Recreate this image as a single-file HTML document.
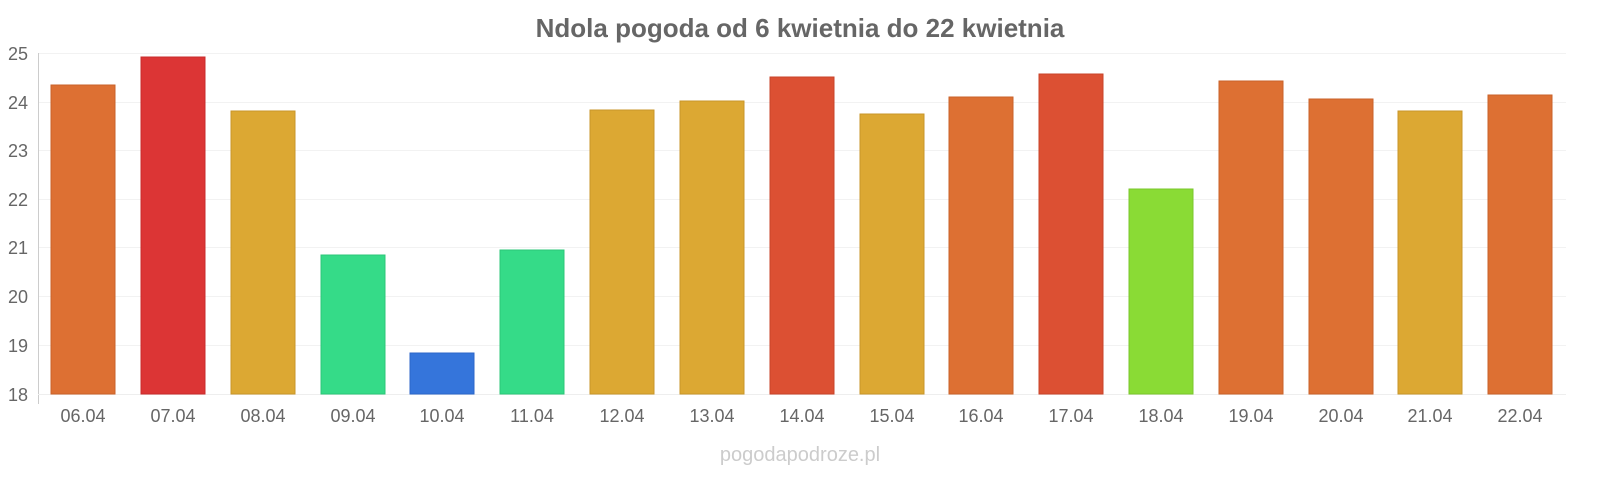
<!DOCTYPE html>
<html><head><meta charset="utf-8"><style>html,body{margin:0;padding:0;background:#fff;width:1600px;height:480px;overflow:hidden}svg{display:block}</style></head><body>
<svg width="1600" height="480" viewBox="0 0 1600 480" xmlns="http://www.w3.org/2000/svg" font-family="Liberation Sans, sans-serif">
<text x="800" y="37" text-anchor="middle" font-size="26" font-weight="bold" fill="#666">Ndola pogoda od 6 kwietnia do 22 kwietnia</text>
<g stroke="#f2f2f2" stroke-width="1">
<line x1="38" x2="1566" y1="53.5" y2="53.5"/><line x1="38" x2="1566" y1="102.5" y2="102.5"/><line x1="38" x2="1566" y1="150.5" y2="150.5"/><line x1="38" x2="1566" y1="199.5" y2="199.5"/><line x1="38" x2="1566" y1="247.5" y2="247.5"/><line x1="38" x2="1566" y1="296.5" y2="296.5"/><line x1="38" x2="1566" y1="345.5" y2="345.5"/>
</g>
<line x1="38.5" x2="38.5" y1="53" y2="404" stroke="#ccc"/>
<line x1="38" x2="1566" y1="394.5" y2="394.5" stroke="#eee"/>
<g font-size="18" fill="#666" text-anchor="end">
<text x="28" y="60">25</text><text x="28" y="109">24</text><text x="28" y="157">23</text><text x="28" y="206">22</text><text x="28" y="254">21</text><text x="28" y="303">20</text><text x="28" y="352">19</text><text x="28" y="401">18</text>
</g>
<g stroke-width="1">
<rect x="51" y="85" width="64" height="309" fill="#dd7033" stroke="#c9622a"/>
<rect x="141" y="57" width="64" height="337" fill="#dc3535" stroke="#c82c2c"/>
<rect x="231" y="111" width="64" height="283" fill="#dca833" stroke="#c8962a"/>
<rect x="321" y="255" width="64" height="139" fill="#35db88" stroke="#2cc778"/>
<rect x="410" y="353" width="64" height="41" fill="#3575db" stroke="#2c66c8"/>
<rect x="500" y="250" width="64" height="144" fill="#35db88" stroke="#2cc778"/>
<rect x="590" y="110" width="64" height="284" fill="#dca833" stroke="#c8962a"/>
<rect x="680" y="101" width="64" height="293" fill="#dca833" stroke="#c8962a"/>
<rect x="770" y="77" width="64" height="317" fill="#dc5033" stroke="#c8432a"/>
<rect x="860" y="114" width="64" height="280" fill="#dca833" stroke="#c8962a"/>
<rect x="949" y="97" width="64" height="297" fill="#dd7033" stroke="#c9622a"/>
<rect x="1039" y="74" width="64" height="320" fill="#dc5033" stroke="#c8432a"/>
<rect x="1129" y="189" width="64" height="205" fill="#8adb35" stroke="#7ac72c"/>
<rect x="1219" y="81" width="64" height="313" fill="#dd7033" stroke="#c9622a"/>
<rect x="1309" y="99" width="64" height="295" fill="#dd7033" stroke="#c9622a"/>
<rect x="1398" y="111" width="64" height="283" fill="#dca833" stroke="#c8962a"/>
<rect x="1488" y="95" width="64" height="299" fill="#dd7033" stroke="#c9622a"/>
</g>
<g font-size="18" fill="#666" text-anchor="middle">
<text x="83" y="422">06.04</text><text x="173" y="422">07.04</text><text x="263" y="422">08.04</text><text x="353" y="422">09.04</text><text x="442" y="422">10.04</text><text x="532" y="422">11.04</text><text x="622" y="422">12.04</text><text x="712" y="422">13.04</text><text x="802" y="422">14.04</text><text x="892" y="422">15.04</text><text x="981" y="422">16.04</text><text x="1071" y="422">17.04</text><text x="1161" y="422">18.04</text><text x="1251" y="422">19.04</text><text x="1341" y="422">20.04</text><text x="1430" y="422">21.04</text><text x="1520" y="422">22.04</text>
</g>
<text x="800" y="461" text-anchor="middle" font-size="20" fill="#ccc">pogodapodroze.pl</text>
</svg>
</body></html>
